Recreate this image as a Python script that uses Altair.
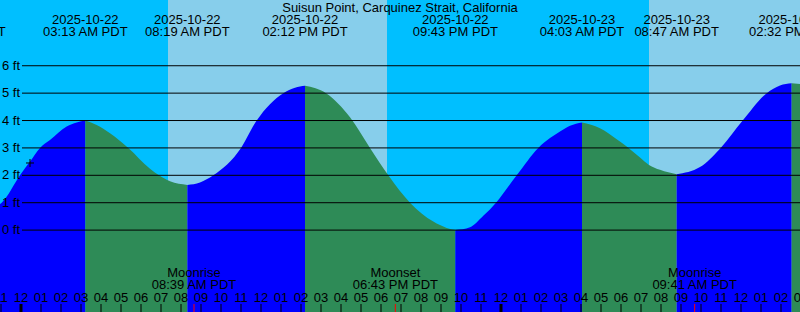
import altair as alt
import pandas as pd

TITLE = "Suisun Point, Carquinez Strait, California"
FONT = "Liberation Sans"

# time axis: hours after 2025-10-22 00:00 PDT
X_DOMAIN = [-1.05, 38.95]
Y_DOMAIN = [-2.99, 8.40]

# ---- tide curve, per rising/falling segment ----
SEG_A_T = [-1.05, -0.965, -0.05, 0.45, 0.95, 1.45, 2.285, 2.785, 3.217]
SEG_A_FT = [0.95, 1.0, 2.0, 2.5, 3.0, 3.29, 3.78, 3.93, 4.0]
SEG_B_T = [3.217, 3.785, 4.45, 5.365, 6.45, 6.9, 7.45, 8.317]
SEG_B_FT = [4.0, 3.84, 3.54, 3.0, 2.24, 2.0, 1.78, 1.65]
SEG_C_T = [8.317, 8.95, 9.615, 11.0, 11.785, 13.115, 13.7, 14.2]
SEG_C_FT = [1.65, 1.74, 2.0, 3.0, 4.0, 5.0, 5.2, 5.27]
SEG_D_T = [14.2, 15.25, 16.45, 17.45, 18.365, 19.45, 20.615, 21.285, 21.717]
SEG_D_FT = [5.27, 5.0, 4.12, 3.0, 2.0, 1.0, 0.31, 0.08, 0.0]
SEG_E_T = [21.717, 22.45, 23.115, 23.75, 24.785, 25.865, 26.45, 26.95, 27.45, 28.05]
SEG_E_FT = [0.0, 0.1, 0.52, 1.0, 2.0, 3.0, 3.36, 3.6, 3.81, 3.93]
SEG_F_T = [28.05, 28.95, 29.785, 30.285, 30.95, 31.4, 31.95, 32.783]
SEG_F_FT = [3.93, 3.72, 3.32, 3.05, 2.65, 2.38, 2.2, 2.04]
SEG_G_T = [32.783, 33.95, 34.985, 36.085, 37.285, 37.95, 38.533]
SEG_G_FT = [2.04, 2.3, 3.0, 4.0, 5.0, 5.28, 5.36]
SEG_H_T = [38.533, 38.95]
SEG_H_FT = [5.36, 5.33]

SEGMENTS = [
    ("A", "flood", SEG_A_T, SEG_A_FT),
    ("B", "ebb", SEG_B_T, SEG_B_FT),
    ("C", "flood", SEG_C_T, SEG_C_FT),
    ("D", "ebb", SEG_D_T, SEG_D_FT),
    ("E", "flood", SEG_E_T, SEG_E_FT),
    ("F", "ebb", SEG_F_T, SEG_F_FT),
    ("G", "flood", SEG_G_T, SEG_G_FT),
    ("H", "ebb", SEG_H_T, SEG_H_FT),
]

# ---- high / low tide events ----
EV_T = [-2.9, 3.217, 8.317, 14.2, 21.717, 28.05, 32.783, 38.533]
EV_DATE = ["2025-10-21", "2025-10-22", "2025-10-22", "2025-10-22",
           "2025-10-22", "2025-10-23", "2025-10-23", "2025-10-23"]
EV_TIME = ["09:06 PM PDT", "03:13 AM PDT", "08:19 AM PDT", "02:12 PM PDT",
           "09:43 PM PDT", "04:03 AM PDT", "08:47 AM PDT", "02:32 PM PDT"]

# ---- moon events ----
MOON_T = [8.65, 18.717, 33.683]
MOON_NAME = ["Moonrise", "Moonset", "Moonrise"]
MOON_TIME = ["08:39 AM PDT", "06:43 PM PDT", "09:41 AM PDT"]

# ---- day / night ----
SKY_START = [-1.05, 7.35, 18.3, 31.4]
SKY_END = [7.35, 18.3, 31.4, 38.95]
SKY_KIND = ["night", "day", "night", "day"]

# ---- height grid ----
GRID_FT = [0, 1, 2, 3, 4, 5, 6]
GRID_LABELS = ["0 ft", "1 ft", "2 ft", "3 ft", "4 ft", "5 ft", "6 ft"]

# ---- hour ticks ----
HOURS = list(range(-1, 40))
HOUR_LABELS = (["11"]
               + ["12", "01", "02", "03", "04", "05", "06", "07", "08", "09", "10", "11"] * 3
               + ["12", "01", "02", "03"])
MIDNIGHTS = [0, 24]

# ---- marker ----
MARK_T = [0.45]
MARK_FT = [2.45]

# ================= build =================
xs = alt.Scale(domain=X_DOMAIN, nice=False, zero=False)
ys = alt.Scale(domain=Y_DOMAIN, nice=False, zero=False)

rows = []
for name, phase, ts, fts in SEGMENTS:
    for t, f in zip(ts, fts):
        rows.append({"seg": name, "phase": phase, "t": t, "ft": f})
curve = pd.DataFrame(rows)

sky = pd.DataFrame({"t0": SKY_START, "t1": SKY_END, "kind": SKY_KIND})
events = pd.DataFrame({"t": EV_T, "date": EV_DATE, "time": EV_TIME})
moon = pd.DataFrame({"t": MOON_T, "name": MOON_NAME, "time": MOON_TIME})
grid = pd.DataFrame({"ft": GRID_FT, "label": GRID_LABELS})
hours = pd.DataFrame({"t": HOURS, "label": HOUR_LABELS})
mid = pd.DataFrame({"t": MIDNIGHTS})
mark = pd.DataFrame({"t": MARK_T, "ft": MARK_FT})


def X(f):
    return alt.X(f, scale=xs, axis=None)


sky_layer = alt.Chart(sky).mark_rect().encode(
    x=X("t0:Q"), x2="t1:Q",
    y=alt.value(0), y2=alt.value(312),
    color=alt.Color("kind:N", scale=alt.Scale(domain=["night", "day"],
                                              range=["#00BFFF", "#87CEEB"]), legend=None),
)

area_layer = alt.Chart(curve).mark_area(interpolate="monotone").encode(
    x=X("t:Q"),
    y=alt.Y("ft:Q", scale=ys, axis=None),
    y2=alt.datum(Y_DOMAIN[0]),
    fill=alt.Fill("phase:N", scale=alt.Scale(domain=["flood", "ebb"],
                                             range=["#0000FF", "#2E8B57"]), legend=None),
    detail="seg:N",
)

grid_layer = alt.Chart(grid).mark_rule(color="black", strokeWidth=1).encode(
    y=alt.Y("ft:Q", scale=ys, axis=None),
    x=alt.value(22), x2=alt.value(800),
)

grid_text = alt.Chart(grid).mark_text(font=FONT, fontSize=13, align="right",
                                      baseline="middle", color="black").encode(
    y=alt.Y("ft:Q", scale=ys, axis=None),
    x=alt.value(20),
    text="label:N",
)

title_layer = alt.Chart(pd.DataFrame({"label": [TITLE]})).mark_text(
    font=FONT, fontSize=13, align="center", baseline="middle", color="black").encode(
    x=alt.value(400), y=alt.value(8), text="label:N")

ev_date = alt.Chart(events).mark_text(font=FONT, fontSize=13, align="center",
                                      baseline="middle", color="black").encode(
    x=X("t:Q"), y=alt.value(20), text="date:N")
ev_time = alt.Chart(events).mark_text(font=FONT, fontSize=13, align="center",
                                      baseline="middle", color="black").encode(
    x=X("t:Q"), y=alt.value(32), text="time:N")

moon_name = alt.Chart(moon).mark_text(font=FONT, fontSize=13, align="center",
                                      baseline="middle", color="black").encode(
    x=X("t:Q"), y=alt.value(273), text="name:N")
moon_time = alt.Chart(moon).mark_text(font=FONT, fontSize=13, align="center",
                                      baseline="middle", color="black").encode(
    x=X("t:Q"), y=alt.value(285), text="time:N")

hour_text = alt.Chart(hours).mark_text(font=FONT, fontSize=13, align="center",
                                       baseline="middle", color="black").encode(
    x=X("t:Q"), y=alt.value(297.5), text="label:N")
hour_ticks = alt.Chart(hours).mark_rule(color="black", strokeWidth=1).encode(
    x=X("t:Q"), y=alt.value(304), y2=alt.value(312))
mid_ticks = alt.Chart(mid).mark_rule(color="black", strokeWidth=3).encode(
    x=X("t:Q"), y=alt.value(304), y2=alt.value(312))
moon_ticks = alt.Chart(moon).mark_rule(color="#FF0000", strokeWidth=1).encode(
    x=X("t:Q"), y=alt.value(304), y2=alt.value(312))

mark_layer = alt.Chart(mark).mark_point(
    shape="M-1,0L1,0M0,-1L0,1", size=64, filled=False, color="black",
    strokeWidth=1, opacity=1).encode(
    x=X("t:Q"), y=alt.Y("ft:Q", scale=ys, axis=None))

chart = alt.layer(
    sky_layer, area_layer, grid_layer, grid_text, title_layer, ev_date, ev_time,
    moon_name, moon_time, hour_text, hour_ticks, mid_ticks, moon_ticks, mark_layer,
).resolve_scale(color="independent", fill="independent").properties(
    width=800, height=312, padding=0, autosize=alt.AutoSizeParams(type="none"),
    background="#00BFFF",
).configure_view(stroke=None)

chart.save("out.html", embed_options={"renderer": "svg", "actions": False})
